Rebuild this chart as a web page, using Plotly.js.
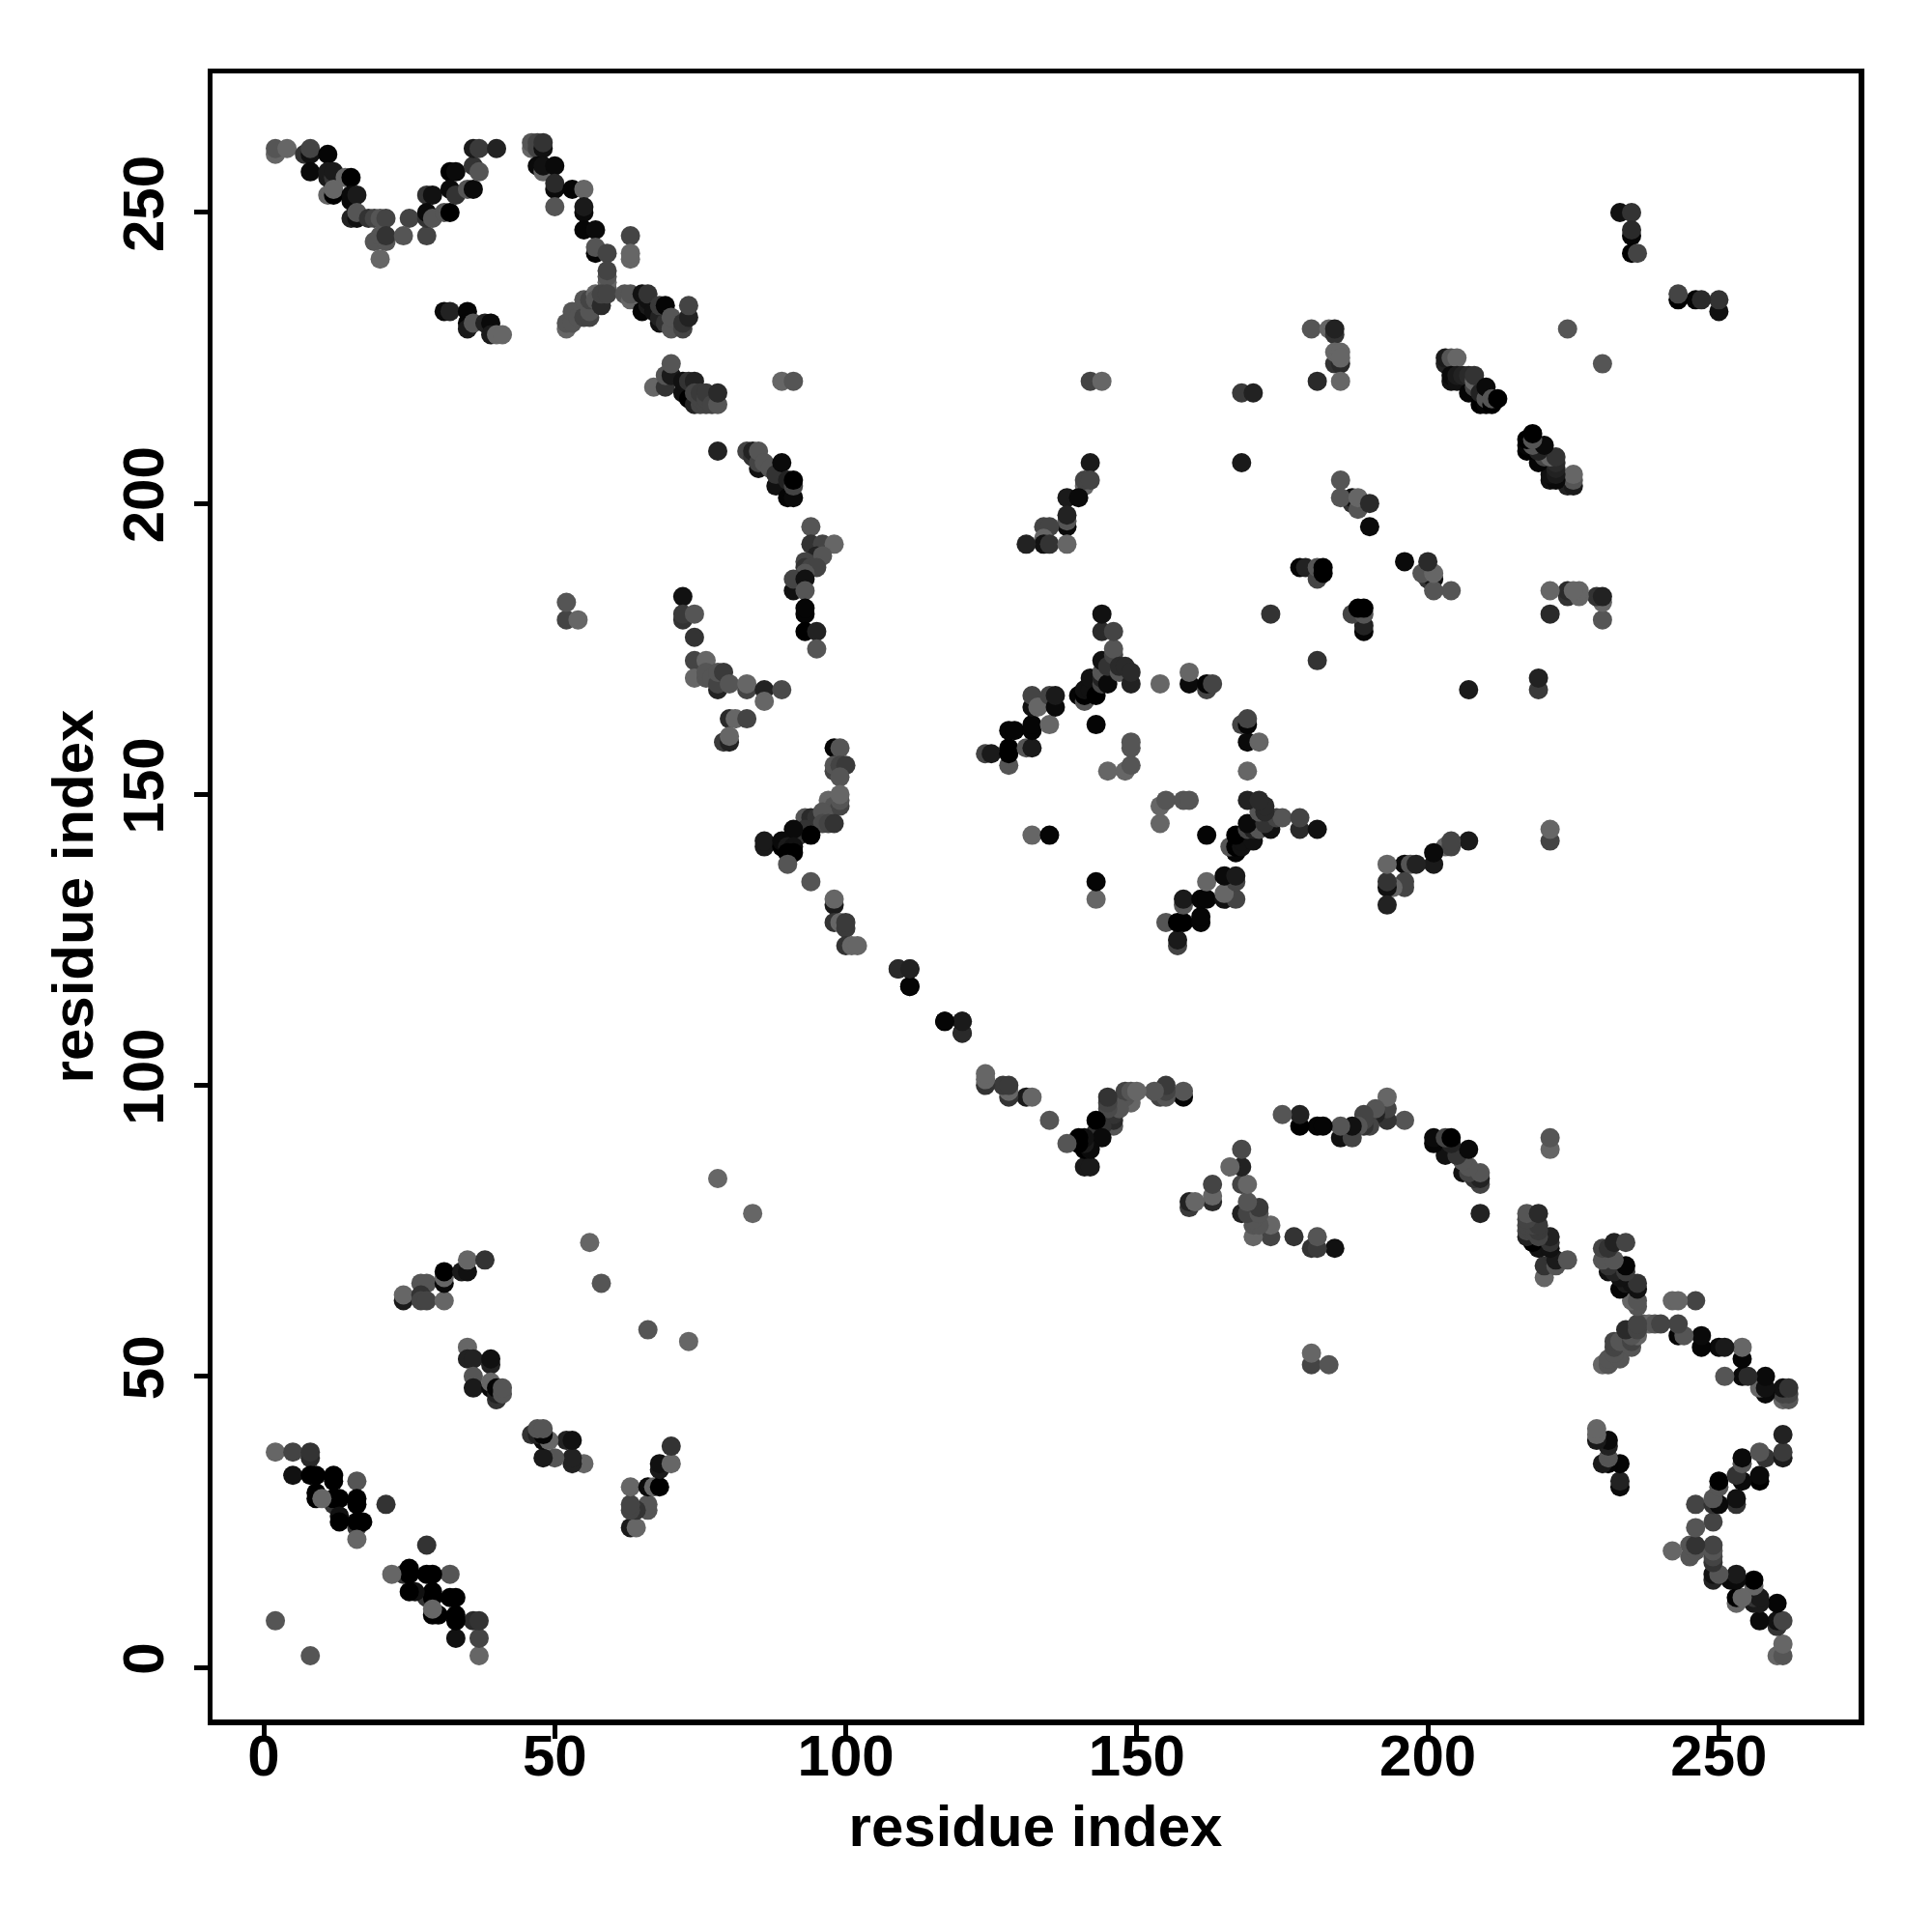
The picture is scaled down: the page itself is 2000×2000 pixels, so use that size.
<!DOCTYPE html>
<html><head><meta charset="utf-8">
<script src="https://cdn.plot.ly/plotly-3.0.1.min.js"></script>
<style>html,body{margin:0;padding:0;background:#fff}</style></head>
<body><div id="chart" style="width:2000px;height:2000px"></div>
<script>
// Contacts as [residue i, residue j, grey level], i<j. The map is symmetric.
const nearBlock=[[2,8,0x55],[2,37,0x66],[5,37,0x44],[8,36,0x2a],[8,37,0x33],[5,33,0x11],[8,33,0],[9,33,0],[12,33,0],[12,32,0],[16,32,0x55],[9,30,0],[9,29,0],[12,28,0x33],[12,29,0],[13,29,0],[10,29,0x66],[16,29,0],[16,28,0],[21,28,0x33],[13,26,0x11],[13,25,0],[16,24,0x33],[16,25,0],[17,25,0],[16,22,0x66]];
const blockB=[[24,63,0x1a],[24,64,0x66],[27,66,0x55],[28,66,0x55],[27,64,0x33],[27,63,0x44],[28,63,0x44],[31,63,0x66],[31,66,0x0a],[31,67,0x66],[31,68,0],[34,68,0x1a],[35,68,0x11],[35,70,0x66],[38,70,0x33]];
const blockC=[[35,55,0x66],[35,53,0x22],[36,53,0x22],[39,52,0x22],[39,53,0x11],[36,50,0x55],[36,48,0x1a],[39,48,0x0a],[39,49,0x66],[40,46,0x33],[40,47,0x22],[40,48,0x05],[41,47,0x55],[41,48,0x55]];
const sparse=[[56,73,0x66],[58,66,0x55],[78,84,0x66],[52,180,0x44],[52,183,0x55],[54,180,0x66]];
const topLeft=[[2,260,0x66],[2,261,0x55],[4,261,0x66],[7,260,0x33],[8,260,0x11],[8,261,0x44],[11,260,0x05],[8,257,0x0a],[11,256,0x1a],[11,257,0x1a],[12,256,0x33],[12,257,0x1a],[14,256,0x66],[15,256,0],[11,253,0x66],[12,253,0],[12,254,0x66],[15,252,0x0a],[15,253,0x0a],[16,253,0x1a],[15,249,0x22],[16,249,0x11],[16,250,0x55],[18,249,0x33],[19,249,0x44],[20,249,0x55],[21,249,0x44],[25,249,0x44],[19,245,0x55],[20,246,0x55],[21,245,0x55],[21,246,0x33],[20,242,0x66],[24,246,0x55],[28,246,0x44],[28,253,0x33],[29,253,0x11],[28,249,0x33],[28,250,0x0a],[29,249,0x55],[31,250,0x55],[32,250,0],[32,257,0],[33,257,0x0a],[32,254,0x0a],[33,253,0x33],[35,254,0x55],[36,254,0x0a],[36,258,0x33],[37,257,0x55],[36,261,0x1a],[37,261,0x3a],[40,261,0x22]];
const row233=[[31,233,0x0a],[32,233,0x22],[35,233,0x05],[35,231,0x05],[35,230,0x1a],[36,231,0x55],[38,231,0x22],[39,231,0x0a],[39,229,0x1a],[40,229,0x66],[41,229,0x66]];
const topMid=[[46,261,0x66],[46,262,0x55],[47,261,0x44],[47,262,0x44],[48,261,0x11],[48,262,0x33],[47,258,0x0a],[48,257,0x66],[48,258,0x11],[50,258,0x0a],[50,254,0x0a],[50,255,0x2a],[53,254,0x05],[55,254,0x66],[50,251,0x55],[55,250,0x0a],[55,251,0x1a],[55,247,0x05],[57,247,0x0a],[57,243,0x05],[57,244,0x55],[59,243,0x44],[63,246,0x44],[63,242,0x66],[63,243,0x66],[59,237,0x55],[59,238,0x66],[59,239,0x55],[59,240,0x44],[52,230,0x66],[52,231,0x55],[53,231,0x55],[53,233,0x55],[54,232,0x55],[55,232,0x44],[55,235,0x55],[56,232,0x44],[56,233,0x55],[56,235,0x44],[57,236,0x66],[57,235,0x55],[58,234,0x2a],[58,236,0x44],[59,236,0x44],[62,236,0x55],[63,235,0x66],[63,236,0x55],[65,233,0x05],[65,236,0x11],[66,234,0x1a],[66,235,0x11],[66,236,0x33],[67,233,0x11],[68,231,0x11],[68,232,0x22],[68,234,0x3a],[69,231,0x33],[69,234,0x05],[70,230,0x55],[70,232,0x55],[72,230,0x44],[72,231,0x33],[73,232,0x22],[73,234,0x44]];
const row220=[[67,220,0x66],[69,220,0x33],[69,222,0x55],[70,222,0x1a],[70,224,0x55],[72,219,0x11],[72,221,0x11],[73,218,0],[73,221,0x33],[74,221,0x22],[74,217,0x22],[74,219,0x44],[75,217,0x44],[75,218,0x44],[75,219,0x3a],[76,217,0x44],[76,218,0x44],[76,219,0x3a],[77,217,0x44],[78,217,0x55],[78,219,0x2a],[89,221,0x66],[91,221,0x55]];
const row205=[[78,209,0x22],[83,209,0x44],[84,208,0x33],[84,209,0x22],[85,206,0x11],[85,207,0x44],[85,209,0x55],[86,207,0x55],[87,206,0x55],[88,203,0x11],[88,205,0x33],[89,207,0x0a],[90,201,0x05],[90,204,0x22],[91,201,0x0a],[91,203,0x44],[91,204,0]];
const arc190=[[94,196,0x55],[94,193,0x33],[96,193,0x44],[98,193,0x66],[95,191,0x22],[96,191,0x55],[93,190,0x44],[93,189,0x33],[94,189,0x44],[95,189,0x44],[93,188,0x55],[91,185,0x11],[91,187,0x44],[93,187,0x11],[93,185,0x55],[93,181,0x05],[93,182,0x05],[93,178,0],[95,178,0x22],[95,175,0x55]];
const arc170=[[72,184,0x11],[72,180,0x33],[72,181,0x3a],[74,181,0x55],[74,177,0x33],[74,173,0x44],[76,173,0x66],[74,170,0x66],[76,170,0x55],[76,171,0x55],[77,170,0x55],[78,168,0x22],[78,169,0x44],[78,171,0x55],[79,171,0x3a],[80,169,0x55],[83,168,0x44],[83,169,0x66],[86,168,0x22],[86,166,0x66],[89,168,0x4a],[80,163,0x2a],[81,163,0x66],[83,163,0x44],[79,159,0x3a],[80,159,0x22],[80,160,0x66]];
const arc150=[[98,158,0x05],[99,158,0x55],[98,154,0x44],[98,155,0x55],[99,155,0x44],[100,155,0x3a],[99,153,0x55],[97,149,0x66],[98,148,0x55],[99,148,0x44],[99,149,0x55],[99,150,0x66],[93,146,0x55],[94,146,0x2a],[95,146,0x33],[96,147,0x55],[96,145,0x4a],[97,145,0x44],[98,145,0x33],[92,143,0x33],[93,144,0x33],[94,143,0],[91,144,0x0a],[86,141,0x1a],[86,142,0x1a],[89,141,0],[89,142,0x0a],[90,141,0x1a],[91,141,0x11],[90,140,0],[91,140,0],[90,138,0x55],[94,135,0x55],[98,131,0x1a],[98,132,0x66],[98,128,0x33],[99,128,0x66],[100,127,0x3a],[100,128,0x3a],[100,124,0x33],[101,124,0x66],[102,124,0x66],[109,120,0x2a],[111,120,0x1a],[111,117,0x05],[117,111,0x05],[120,109,0x2a],[120,111,0x22]];
const center=[[124,157,0x44],[125,157,0x1a],[128,155,0x55],[128,157,0],[128,158,0],[128,161,0x05],[129,161,0x05],[131,158,0x55],[132,158,0x1a],[132,161,0x05],[132,162,0x05],[132,165,0x11],[132,167,0x44],[133,165,0x66],[135,162,0x66],[135,167,0x44],[136,165,0x0a],[136,167,0x1a],[132,143,0x66],[135,143,0x05],[140,167,0x05],[141,166,0x55],[141,167,0],[141,168,0x11],[142,168,0x11],[142,170,0x11],[143,162,0x05],[143,167,0],[144,169,0x44],[144,170,0x22],[144,171,0x55],[144,173,0x11],[144,178,0x2a],[144,181,0x11],[145,169,0x0a],[145,172,0x33],[146,174,0x44],[146,175,0x55],[146,178,0x44],[147,171,0x55],[147,172,0x2a],[148,172,0x2a],[149,169,0x22],[149,171,0x2a],[145,154,0x66],[148,154,0x66],[149,155,0x55],[149,158,0x55],[149,159,0x55],[154,169,0x66],[159,169,0x0a],[159,171,0x66],[162,168,0x44],[162,169,0x05],[163,169,0x44]];
const upperLeft=[[142,221,0x44],[144,221,0x66],[142,207,0x1a],[141,203,0x66],[141,204,0x44],[142,204,0x44],[138,201,0x1a],[140,201,0x0a],[138,196,0x0a],[138,197,0x55],[138,198,0x22],[134,196,0x44],[135,196,0x44],[134,194,0x66],[134,193,0x11],[135,193,0x33],[131,193,0x22],[138,193,0x66]];
const upperMid=[[168,219,0x3a],[170,219,0x22],[168,207,0x1a],[173,181,0x33],[180,230,0x55],[183,230,0x66],[184,229,0x33],[184,230,0x22],[184,224,0x33],[185,224,0x2a],[184,226,0x66],[185,226,0x66],[185,225,0x66],[181,221,0x2a],[185,221,0x66],[185,204,0x55],[187,200,0x33],[188,200,0x11],[187,201,0x11],[185,201,0x55],[188,199,0x55],[188,201,0x66],[190,200,0x2a],[190,196,0x0a],[178,189,0x05],[179,189,0x22],[181,187,0x44],[181,189,0x55],[182,188,0],[182,189,0]];
const upperRight=[[203,224,0x22],[203,225,0x1a],[204,225,0x55],[205,225,0x66],[204,221,0x11],[204,222,0x0a],[205,221,0x11],[205,222,0x1a],[206,222,0x22],[207,219,0x05],[207,222,0x2a],[208,220,0x44],[208,221,0x66],[208,222,0x33],[209,217,0],[209,219,0x22],[210,217,0x05],[210,218,0x55],[210,220,0x0a],[211,217,0],[211,218,0x55],[212,218,0],[224,230,0x55],[233,250,0x11],[235,250,0x33],[235,246,0x05],[235,247,0x2a],[235,243,0],[236,243,0x44]];
const contacts=[].concat(nearBlock,blockB,blockC,sparse,topLeft,row233,topMid,row220,row205,arc190,arc170,arc150,center,upperLeft,upperMid,upperRight);
const residueI=contacts.map(c=>c[0]), residueJ=contacts.map(c=>c[1]), greys=contacts.map(c=>c[2]);
const tickVals=[0,50,100,150,200,250];
const axisTitle='<b>residue index</b>';
const xs=residueI.concat(residueJ), ys=residueJ.concat(residueI);
const cs=greys.concat(greys).map(g=>`rgb(${g},${g},${g})`);
const tf={family:'Liberation Sans, Arial, sans-serif',size:60,color:'#000',weight:700};
const ax={showgrid:false,zeroline:false,showline:true,mirror:true,linewidth:5.5,linecolor:'#000',ticks:'outside',ticklen:14,tickwidth:5,tickcolor:'#000',tickvals:tickVals,ticktext:tickVals.map(String),tickfont:tf};
Plotly.newPlot('chart',[{type:'scatter',mode:'markers',x:xs,y:ys,marker:{size:20,color:cs,line:{width:0}},hoverinfo:'skip'}],{
 width:2000,height:2000,paper_bgcolor:'#fff',plot_bgcolor:'#fff',showlegend:false,
 margin:{l:220,r:76,t:76,b:220,pad:0},
 xaxis:Object.assign({},ax,{range:[-8.8,274.0],ticklabelstandoff:-34,title:{text:axisTitle,font:tf,standoff:21},automargin:false}),
 yaxis:Object.assign({},ax,{range:[-8.96,273.9],tickangle:-90,ticklabelstandoff:8,title:{text:axisTitle,font:tf,standoff:0},automargin:false})
},{displayModeBar:false,staticPlot:true});
</script></body></html>
